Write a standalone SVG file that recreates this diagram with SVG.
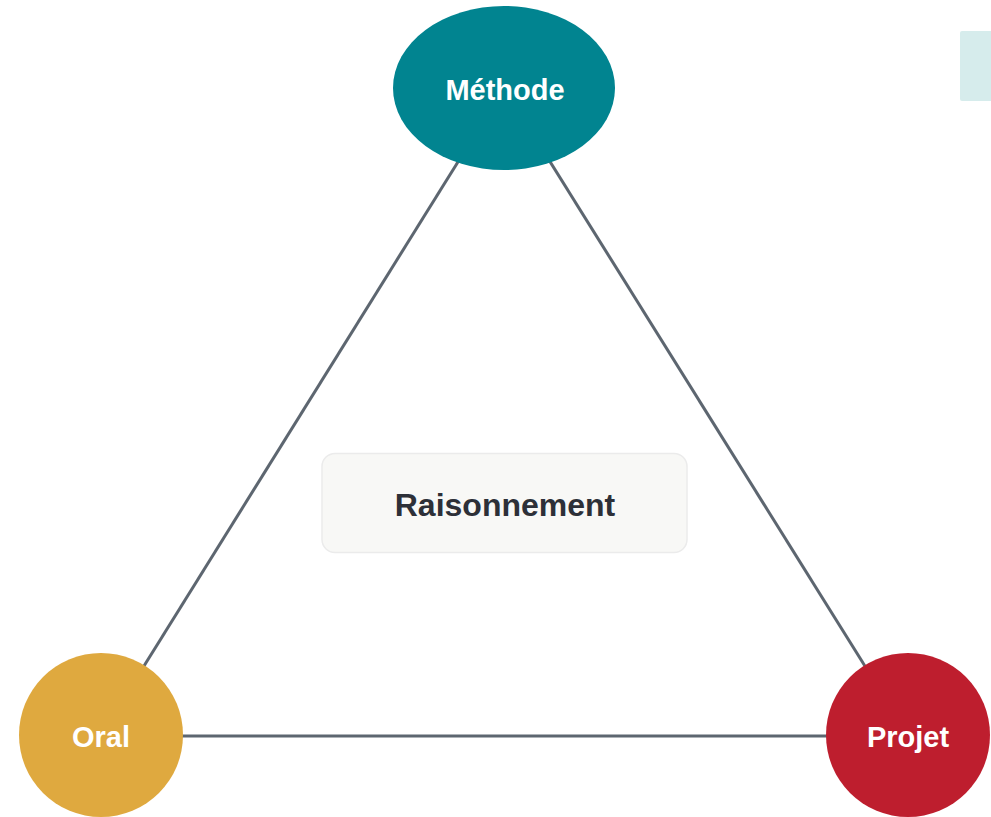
<svg xmlns="http://www.w3.org/2000/svg" width="991" height="817" viewBox="0 0 991 817">
<style>
.edge{stroke:#5d6670;stroke-width:3;fill:none}
.lbl{font-family:"Liberation Sans",Arial,sans-serif;font-weight:bold;font-size:29px;fill:#ffffff;text-anchor:middle}
.center{font-family:"Liberation Sans",Arial,sans-serif;font-weight:bold;font-size:32px;fill:#2d3038;text-anchor:middle}
</style>
<rect x="0" y="0" width="991" height="817" fill="#ffffff"/>
<rect x="960" y="31" width="40" height="70" rx="2" fill="#d6ecec"/>
<g id="connectors">
<line class="edge" x1="504" y1="88" x2="101" y2="735"/>
<line class="edge" x1="504" y1="88" x2="908" y2="735"/>
<line class="edge" x1="101" y1="736" x2="908" y2="736"/>
</g>
<g id="raisonnement">
<rect x="322" y="453.5" width="365" height="99" rx="13" fill="#f8f8f6" stroke="#ebebeb" stroke-width="1.5"/>
<text class="center" x="505" y="516">Raisonnement</text>
</g>
<g id="methode">
<ellipse cx="504" cy="88" rx="111" ry="82" fill="#018490"/>
<text class="lbl" x="505" y="100">Méthode</text>
</g>
<g id="oral">
<circle cx="101" cy="735" r="82" fill="#dfa93f"/>
<text class="lbl" x="101" y="747">Oral</text>
</g>
<g id="projet">
<circle cx="908" cy="735" r="82" fill="#be1e2e"/>
<text class="lbl" x="908" y="747">Projet</text>
</g>
</svg>
